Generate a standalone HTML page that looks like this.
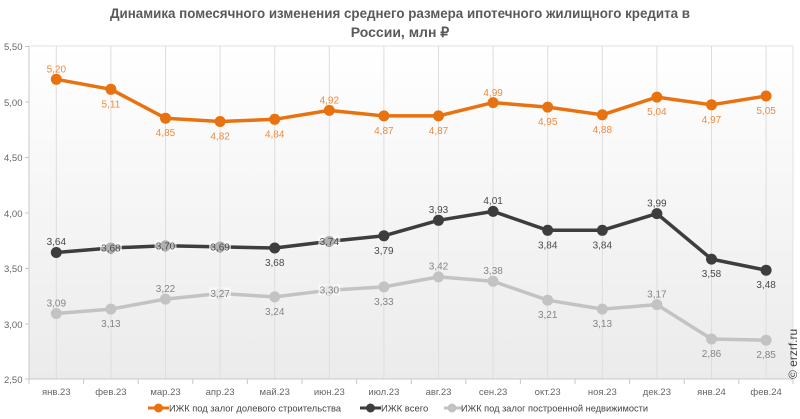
<!DOCTYPE html>
<html><head><meta charset="utf-8"><style>
html,body{margin:0;padding:0;background:#fff;}
svg{display:block;font-family:"Liberation Sans",sans-serif;}
</style></head><body>
<svg width="800" height="419" viewBox="0 0 800 419" xmlns="http://www.w3.org/2000/svg">
<defs>
<linearGradient id="bg" x1="0" y1="0" x2="0" y2="1">
<stop offset="0" stop-color="#ffffff"/>
<stop offset="1" stop-color="#ebebeb"/>
</linearGradient>
</defs>
<text x="400" y="18" text-anchor="middle" font-size="14" font-weight="bold" fill="#595959" textLength="580" lengthAdjust="spacingAndGlyphs">Динамика помесячного изменения среднего размера ипотечного жилищного кредита в</text>
<text x="400" y="37" text-anchor="middle" font-size="14" font-weight="bold" fill="#595959">России, млн ₽</text>

<rect x="29" y="46" width="764" height="333" fill="url(#bg)" stroke="#e2e2e2" stroke-width="1"/>
<g stroke="#dedede" stroke-width="1">
<line x1="56.3" y1="46" x2="56.3" y2="379"/><line x1="110.9" y1="46" x2="110.9" y2="379"/><line x1="165.5" y1="46" x2="165.5" y2="379"/><line x1="220.1" y1="46" x2="220.1" y2="379"/><line x1="274.7" y1="46" x2="274.7" y2="379"/><line x1="329.3" y1="46" x2="329.3" y2="379"/><line x1="383.9" y1="46" x2="383.9" y2="379"/><line x1="438.5" y1="46" x2="438.5" y2="379"/><line x1="493.1" y1="46" x2="493.1" y2="379"/><line x1="547.7" y1="46" x2="547.7" y2="379"/><line x1="602.3" y1="46" x2="602.3" y2="379"/><line x1="656.9" y1="46" x2="656.9" y2="379"/><line x1="711.5" y1="46" x2="711.5" y2="379"/><line x1="766.1" y1="46" x2="766.1" y2="379"/>
</g>
<g stroke="#c8c8c8" stroke-width="1">
<line x1="29" y1="46" x2="29" y2="379"/>
<line x1="29" y1="379" x2="793" y2="379"/>
<line x1="25" y1="46.5" x2="29" y2="46.5"/><line x1="25" y1="102" x2="29" y2="102"/><line x1="25" y1="157.5" x2="29" y2="157.5"/><line x1="25" y1="213" x2="29" y2="213"/><line x1="25" y1="268.5" x2="29" y2="268.5"/><line x1="25" y1="324" x2="29" y2="324"/><line x1="25" y1="379" x2="29" y2="379"/>
<line x1="29" y1="379" x2="29" y2="384"/><line x1="83.6" y1="379" x2="83.6" y2="384"/><line x1="138.2" y1="379" x2="138.2" y2="384"/><line x1="192.8" y1="379" x2="192.8" y2="384"/><line x1="247.4" y1="379" x2="247.4" y2="384"/><line x1="302" y1="379" x2="302" y2="384"/><line x1="356.6" y1="379" x2="356.6" y2="384"/><line x1="411.2" y1="379" x2="411.2" y2="384"/><line x1="465.8" y1="379" x2="465.8" y2="384"/><line x1="520.4" y1="379" x2="520.4" y2="384"/><line x1="575" y1="379" x2="575" y2="384"/><line x1="629.6" y1="379" x2="629.6" y2="384"/><line x1="684.2" y1="379" x2="684.2" y2="384"/><line x1="738.8" y1="379" x2="738.8" y2="384"/><line x1="793" y1="379" x2="793" y2="384"/>
</g>
<g font-size="9.5" fill="#666">
<text x="4" y="50">5,50</text><text x="4" y="106">5,00</text><text x="4" y="161">4,50</text><text x="4" y="217">4,00</text><text x="4" y="272">3,50</text><text x="4" y="328">3,00</text><text x="4" y="383">2,50</text>
</g>
<g font-size="9.5" fill="#666" text-anchor="middle">
<text x="56.3" y="395">янв.23</text><text x="110.9" y="395">фев.23</text><text x="165.5" y="395">мар.23</text><text x="220.1" y="395">апр.23</text><text x="274.7" y="395">май.23</text><text x="329.3" y="395">июн.23</text><text x="383.9" y="395">июл.23</text><text x="438.5" y="395">авг.23</text><text x="493.1" y="395">сен.23</text><text x="547.7" y="395">окт.23</text><text x="602.3" y="395">ноя.23</text><text x="656.9" y="395">дек.23</text><text x="711.5" y="395">янв.24</text><text x="766.1" y="395">фев.24</text>
</g>

<!-- gray series -->
<polyline fill="none" stroke="#c3c3c3" stroke-width="3.5" stroke-linejoin="round" points="56.3,313.5 110.9,309.1 165.5,299.1 220.1,293.5 274.7,296.9 329.3,290.2 383.9,286.9 438.5,276.9 493.1,281.3 547.7,300.2 602.3,309.1 656.9,304.6 711.5,339 766.1,340.2"/>
<g fill="#c3c3c3">
<circle cx="56.3" cy="313.5" r="5.5"/><circle cx="110.9" cy="309.1" r="5.5"/><circle cx="165.5" cy="299.1" r="5.5"/><circle cx="220.1" cy="293.5" r="5.5"/><circle cx="274.7" cy="296.9" r="5.5"/><circle cx="329.3" cy="290.2" r="5.5"/><circle cx="383.9" cy="286.9" r="5.5"/><circle cx="438.5" cy="276.9" r="5.5"/><circle cx="493.1" cy="281.3" r="5.5"/><circle cx="547.7" cy="300.2" r="5.5"/><circle cx="602.3" cy="309.1" r="5.5"/><circle cx="656.9" cy="304.6" r="5.5"/><circle cx="711.5" cy="339" r="5.5"/><circle cx="766.1" cy="340.2" r="5.5"/>
</g>
<!-- dark series -->
<polyline fill="none" stroke="#3d3d3d" stroke-width="3.5" stroke-linejoin="round" points="56.3,252.5 110.9,248 165.5,245.8 220.1,246.9 274.7,248 329.3,241.4 383.9,235.8 438.5,220.3 493.1,211.4 547.7,230.3 602.3,230.3 656.9,213.6 711.5,259.1 766.1,270.2"/>
<g fill="#3d3d3d">
<circle cx="56.3" cy="252.5" r="5.5"/><circle cx="110.9" cy="248" r="5.5"/><circle cx="165.5" cy="245.8" r="5.5"/><circle cx="220.1" cy="246.9" r="5.5"/><circle cx="274.7" cy="248" r="5.5"/><circle cx="329.3" cy="241.4" r="5.5"/><circle cx="383.9" cy="235.8" r="5.5"/><circle cx="438.5" cy="220.3" r="5.5"/><circle cx="493.1" cy="211.4" r="5.5"/><circle cx="547.7" cy="230.3" r="5.5"/><circle cx="602.3" cy="230.3" r="5.5"/><circle cx="656.9" cy="213.6" r="5.5"/><circle cx="711.5" cy="259.1" r="5.5"/><circle cx="766.1" cy="270.2" r="5.5"/>
</g>
<!-- orange series -->
<polyline fill="none" stroke="#e8720f" stroke-width="3.5" stroke-linejoin="round" points="56.3,79.3 110.9,89.3 165.5,118.2 220.1,121.5 274.7,119.3 329.3,110.4 383.9,115.9 438.5,115.9 493.1,102.6 547.7,107.1 602.3,114.8 656.9,97.1 711.5,104.8 766.1,96"/>
<g fill="#e8720f">
<circle cx="56.3" cy="79.3" r="5.5"/><circle cx="110.9" cy="89.3" r="5.5"/><circle cx="165.5" cy="118.2" r="5.5"/><circle cx="220.1" cy="121.5" r="5.5"/><circle cx="274.7" cy="119.3" r="5.5"/><circle cx="329.3" cy="110.4" r="5.5"/><circle cx="383.9" cy="115.9" r="5.5"/><circle cx="438.5" cy="115.9" r="5.5"/><circle cx="493.1" cy="102.6" r="5.5"/><circle cx="547.7" cy="107.1" r="5.5"/><circle cx="602.3" cy="114.8" r="5.5"/><circle cx="656.9" cy="97.1" r="5.5"/><circle cx="711.5" cy="104.8" r="5.5"/><circle cx="766.1" cy="96" r="5.5"/>
</g>

<!-- orange labels -->
<g font-size="10" fill="#f08a3c" text-anchor="middle">
<text x="56.3" y="72.5">5,20</text><text x="110.9" y="107.3">5,11</text><text x="165.5" y="136.2">4,85</text><text x="220.1" y="139.5">4,82</text><text x="274.7" y="137.3">4,84</text><text x="329.3" y="103.6">4,92</text><text x="383.9" y="133.9">4,87</text><text x="438.5" y="133.9">4,87</text><text x="493.1" y="95.8">4,99</text><text x="547.7" y="125.1">4,95</text><text x="602.3" y="132.8">4,88</text><text x="656.9" y="115.1">5,04</text><text x="711.5" y="122.8">4,97</text><text x="766.1" y="114">5,05</text>
</g>
<!-- center label backgrounds -->
<g fill="#ffffff" fill-opacity="0.6">
<rect x="100" y="242" width="22" height="11"/><rect x="154.5" y="240" width="22" height="11"/><rect x="209" y="241" width="22" height="11"/><rect x="318.3" y="235.5" width="22" height="11"/>
<rect x="209" y="287.5" width="22" height="11"/><rect x="318.3" y="284.2" width="22" height="11"/>
</g>
<!-- dark labels -->
<g font-size="10" fill="#4a4a4a" text-anchor="middle">
<text x="56.3" y="245">3,64</text><text x="110.9" y="251.5">3,68</text><text x="165.5" y="249.3">3,70</text><text x="220.1" y="250.4">3,69</text><text x="274.7" y="266">3,68</text><text x="329.3" y="244.9">3,74</text><text x="383.9" y="253.8">3,79</text><text x="438.5" y="213">3,93</text><text x="493.1" y="204">4,01</text><text x="547.7" y="248.3">3,84</text><text x="602.3" y="248.3">3,84</text><text x="656.9" y="206.3">3,99</text><text x="711.5" y="277.1">3,58</text><text x="766.1" y="288.2">3,48</text>
</g>
<!-- gray labels -->
<g font-size="10" fill="#858585" text-anchor="middle">
<text x="56.3" y="306.3">3,09</text><text x="110.9" y="327.1">3,13</text><text x="165.5" y="292">3,22</text><text x="220.1" y="297">3,27</text><text x="274.7" y="314.9">3,24</text><text x="329.3" y="293.7">3,30</text><text x="383.9" y="304.9">3,33</text><text x="438.5" y="269.7">3,42</text><text x="493.1" y="274.1">3,38</text><text x="547.7" y="318.2">3,21</text><text x="602.3" y="327.1">3,13</text><text x="656.9" y="297.4">3,17</text><text x="711.5" y="357">2,86</text><text x="766.1" y="358.2">2,85</text>
</g>

<text transform="translate(797,379) rotate(-90)" font-size="12" fill="#444">© erzrf.ru</text>

<!-- legend -->
<g font-size="9.5" fill="#444">
<line x1="148" y1="408" x2="169" y2="408" stroke="#e8720f" stroke-width="3"/><circle cx="158.5" cy="408" r="4.5" fill="#e8720f"/>
<text x="169" y="411.5" textLength="172" lengthAdjust="spacingAndGlyphs">ИЖК под залог долевого строительства</text>
<line x1="360" y1="408" x2="381" y2="408" stroke="#3d3d3d" stroke-width="3"/><circle cx="370.5" cy="408" r="4.5" fill="#3d3d3d"/>
<text x="381" y="411.5">ИЖК всего</text>
<line x1="444" y1="408" x2="462" y2="408" stroke="#c3c3c3" stroke-width="3"/><circle cx="452" cy="408" r="4.5" fill="#c3c3c3"/>
<text x="461" y="411.5" textLength="187" lengthAdjust="spacingAndGlyphs">ИЖК под залог построенной недвижимости</text>
</g>
</svg>
</body></html>
